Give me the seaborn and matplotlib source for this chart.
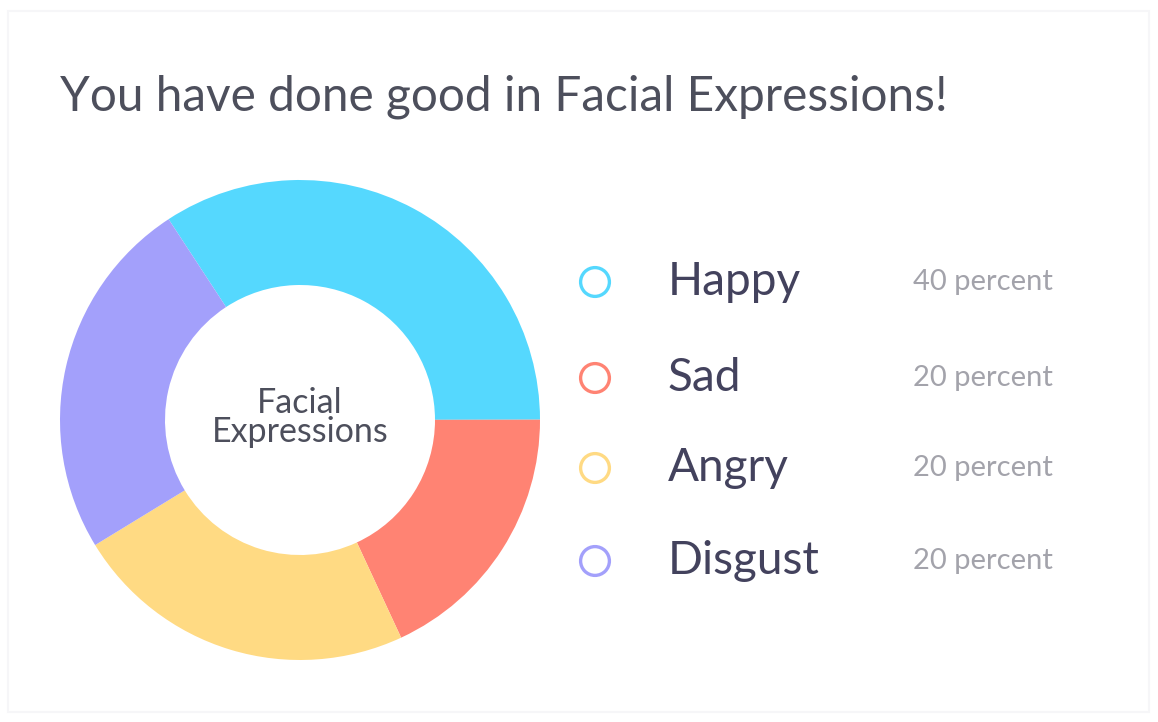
import matplotlib
matplotlib.use("Agg")
import matplotlib.pyplot as plt
import seaborn as sns
import pandas as pd
from matplotlib.patches import FancyBboxPatch

# data
labels = ["Happy", "Sad", "Angry", "Disgust"]
slice_share = [34.2, 18.1, 23.2, 24.5]          # drawn wedge sizes
legend_text = ["40 percent", "20 percent", "20 percent", "20 percent"]
colors = ["#55d8fe", "#ff8373", "#ffda83", "#a3a0fb"]

title = "You have done good in Facial Expressions!"
center_label = "Facial\nExpressions"

sns.set_theme(style="white")
plt.rcParams["font.family"] = ["Lato", "DejaVu Sans"]

W, H = 1158, 722
fig = plt.figure(figsize=(W / 100, H / 100), dpi=100)
fig.patch.set_facecolor("white")

# faint card behind everything
card = FancyBboxPatch((8 / W, 10 / H), 1141 / W, 701 / H, boxstyle="square,pad=0",
                      transform=fig.transFigure, facecolor="white",
                      edgecolor="#f6f6f8", linewidth=1.5, zorder=-5)
fig.patches.append(card)

fig.text(60 / W, 1 - 97 / H, title, fontsize=34.4, color="#4d4f5c",
         va="center", ha="left")

# donut
cx, cy, r = 300, 420, 240
ax = fig.add_axes([(cx - r) / W, 1 - (cy + r) / H, 2 * r / W, 2 * r / H])
ax.set_facecolor("none")
ax.pie(slice_share, colors=colors, startangle=123.2, counterclock=False,
       radius=1, wedgeprops=dict(width=105 / 240, linewidth=0))
ax.set_xlim(-1, 1)
ax.set_ylim(-1, 1)
ax.set_aspect("equal")
ax.text(0, 0.01, center_label, ha="center", va="center", fontsize=24.5,
        color="#4d4f5c", linespacing=0.9)

# legend
leg_y = [282, 378, 468, 561]
lax = fig.add_axes([0, 0, 1, 1], facecolor="none")
lax.set_xlim(0, W)
lax.set_ylim(H, 0)
lax.axis("off")
df = pd.DataFrame({"x": [595] * 4, "y": leg_y, "label": labels})
sns.scatterplot(data=df, x="x", y="y", hue="label", palette=colors, ax=lax,
                s=430, linewidth=2.4, legend=False)
for coll in lax.collections:
    coll.set_facecolor("white")
    coll.set_edgecolor(colors)
for y, lab, txt in zip(leg_y, labels, legend_text):
    lax.text(668, y, lab, fontsize=33, color="#43425d", va="center", ha="left")
    lax.text(913, y, txt, fontsize=21, color="#a3a3ab", va="center", ha="left")

fig.savefig("out.png", dpi=100, facecolor="white")
